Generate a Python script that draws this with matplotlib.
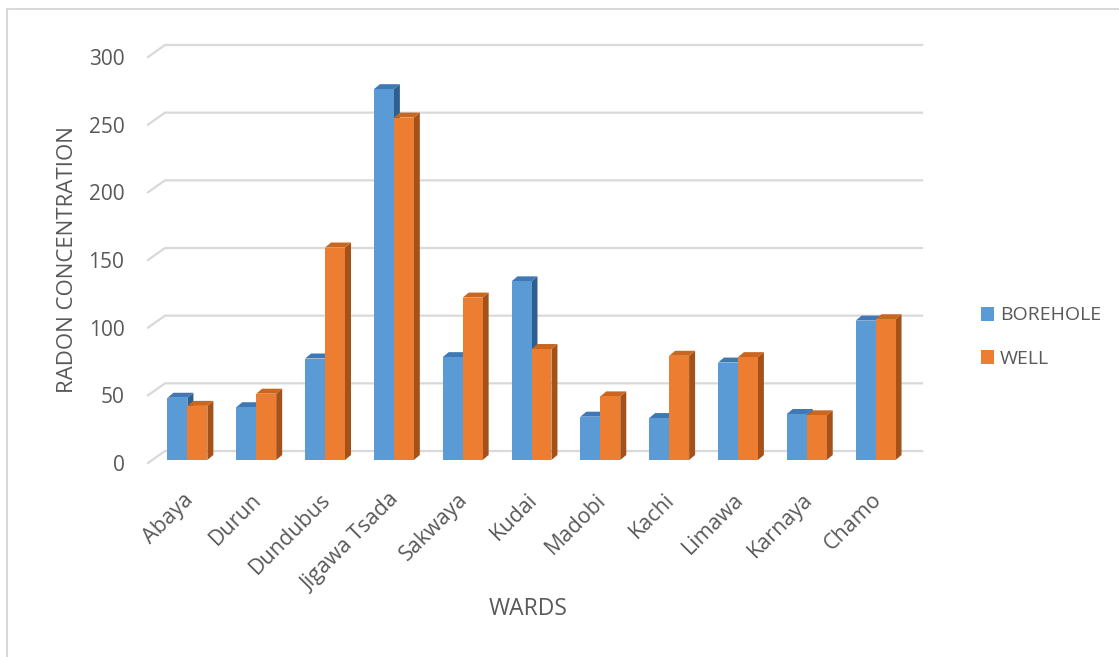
import matplotlib.pyplot as plt
from matplotlib.patches import Polygon, Patch
from matplotlib.lines import Line2D
from matplotlib.transforms import IdentityTransform

plt.rcParams['font.family'] = ['Open Sans', 'DejaVu Sans']

# data
wards = ['Abaya', 'Durun', 'Dundubus', 'Jigawa Tsada', 'Sakwaya', 'Kudai',
         'Madobi', 'Kachi', 'Limawa', 'Karnaya', 'Chamo']
borehole = [46, 39, 75, 274, 76, 132, 32, 31, 72, 34, 103]
well = [40, 49, 157, 253, 120, 82, 47, 77, 76, 33, 104]
yticks = [0, 50, 100, 150, 200, 250, 300]

blue = ['#5B9BD5', '#3F78B4', '#2F5F8E']     # front, top, side
orange = ['#ED7D31', '#C9661F', '#A4521A']
grid_col = '#D9D9D9'
txt_col = '#595959'

W, H = 1119, 657
fig = plt.figure(figsize=(W / 100, H / 100), dpi=100)
ax = fig.add_axes([148 / W, 194 / H, 757 / W, 406 / H])
ax.patch.set_visible(False)
ax.set_xlim(-0.5, len(wards) - 0.5)
ax.set_ylim(0, 300)
for s in ax.spines.values():
    s.set_visible(False)
ax.set_yticks(yticks)
ax.set_yticklabels([str(v) for v in yticks], fontsize=15, color=txt_col)
ax.set_xticks(range(len(wards)))
ax.set_xticklabels(wards, rotation=45, ha='right', rotation_mode='anchor',
                   fontsize=15.5, color=txt_col)
ax.tick_params(axis='y', length=0, pad=17)
ax.tick_params(axis='x', length=0, pad=19)

# back wall gridlines (3d look)
gdx, gdy = 17, 12
for v in yticks:
    x0, y0 = ax.transData.transform((-0.5, v))
    x1, y1 = ax.transData.transform((len(wards) - 0.5, v))
    fig.add_artist(Line2D([x0, x0 + gdx, x1 + gdx], [y0, y0 + gdy, y1 + gdy],
                          color=grid_col, lw=1.6, transform=IdentityTransform(), zorder=0))

# bars with depth
bw = 0.29
off_x, off_y = 5, 3
ddx, ddy = 6, 5
for i in range(len(wards)):
    for val, xc, cols in [(borehole[i], i - bw / 2, blue), (well[i], i + bw / 2, orange)]:
        (xl, yb) = ax.transData.transform((xc - bw / 2, 0))
        (xr, yt) = ax.transData.transform((xc + bw / 2, val))
        xl += off_x; xr += off_x; yb += off_y; yt += off_y
        front = Polygon([(xl, yb), (xr, yb), (xr, yt), (xl, yt)], closed=True,
                        facecolor=cols[0], edgecolor='none', transform=IdentityTransform())
        side = Polygon([(xr, yb), (xr + ddx, yb + ddy), (xr + ddx, yt + ddy), (xr, yt)],
                       closed=True, facecolor=cols[2], edgecolor='none', transform=IdentityTransform())
        top = Polygon([(xl, yt), (xr, yt), (xr + ddx, yt + ddy), (xl + ddx, yt + ddy)],
                      closed=True, facecolor=cols[1], edgecolor='none', transform=IdentityTransform())
        for p in (side, top, front):
            p.set_zorder(2)
            fig.add_artist(p)

fig.text(68 / W, 1 - 260 / H, 'RADON CONCENTRATION', rotation=90, ha='center', va='center',
         fontsize=16, color=txt_col)
fig.text(528 / W, 1 - 609 / H, 'WARDS', ha='center', va='center', fontsize=16.5, color=txt_col)

handles = [Patch(facecolor=blue[0], label='BOREHOLE'), Patch(facecolor=orange[0], label='WELL')]
fig.legend(handles=handles, loc='upper left', bbox_to_anchor=(963 / W, 1 - 289 / H),
           frameon=False, fontsize=14, labelcolor=txt_col, handlelength=0.7, handleheight=0.7,
           handletextpad=0.3, labelspacing=1.3)

# outer border
fig.add_artist(Line2D([7 / W, 7 / W, 1.0], [0, 1 - 9 / H, 1 - 9 / H], color='#D9D9D9', lw=1.5,
                      transform=fig.transFigure))

fig.savefig('out.png', dpi=100)
